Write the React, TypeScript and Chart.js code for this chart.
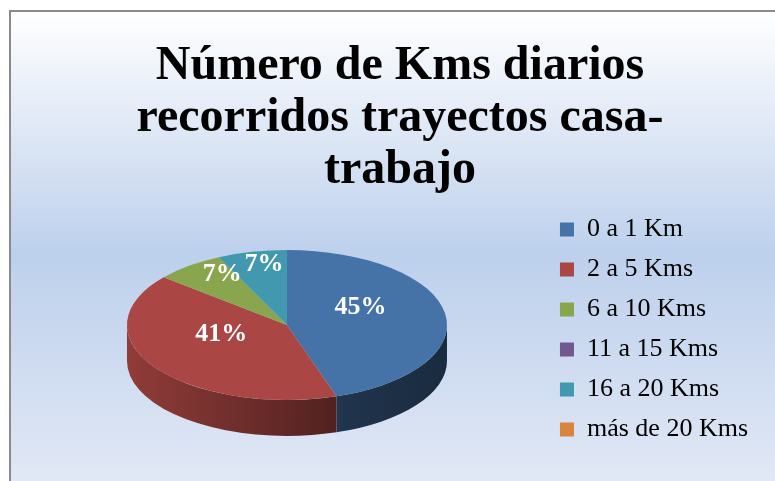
import React, { useEffect, useRef } from 'react';
import { Chart, registerables } from 'chart.js';

Chart.register(...registerables);

// ---- data ----
const titleLines = ['Número de Kms diarios', 'recorridos trayectos casa-', 'trabajo'];
const categories = ['0 a 1 Km', '2 a 5 Kms', '6 a 10 Kms', '11 a 15 Kms', '16 a 20 Kms', 'más de 20 Kms'];
const percentages = [45, 41, 7, 0, 7, 0];
const sliceColors = ['#4572A7', '#AA4643', '#89A54E', '#71588F', '#4198AF', '#DB843D'];

// ---- style ----
const SERIF = '"Liberation Serif", "Times New Roman", Times, serif';
const PIE_RADIUS = 160;
const TILT = 75 / 160; // vertical squash of the top face
const DEPTH = 36; // thickness of the pie
const TITLE_SHIFT = 7;
const LABEL_LIFT = 12; // perspective lift of the value labels

function shade(hex: string, f: number): string {
  const n = parseInt(hex.slice(1), 16);
  const r = Math.round(((n >> 16) & 255) * f);
  const g = Math.round(((n >> 8) & 255) * f);
  const b = Math.round((n & 255) * f);
  return `rgb(${r},${g},${b})`;
}

const backgroundPlugin = {
  id: 'bgFrame',
  beforeDraw(chart: any) {
    const { ctx, width, height } = chart;
    ctx.save();
    const g = ctx.createLinearGradient(0, 0, 0, height);
    g.addColorStop(0, '#ffffff');
    g.addColorStop(0.52, '#bdd0ec');
    g.addColorStop(1, '#e1e8f5');
    ctx.fillStyle = g;
    ctx.fillRect(0, 0, width, height);
    ctx.fillStyle = '#8a8a8a';
    ctx.fillRect(0, 0, 2, height);
    ctx.fillRect(0, 0, width, 2);
    ctx.restore();
  },
};

const titleShiftPlugin = {
  id: 'titleShift',
  afterLayout(chart: any) {
    const t = chart.titleBlock;
    if (t) {
      t.left += TITLE_SHIFT;
      t.right += TITLE_SHIFT;
    }
  },
};

const pie3dPlugin = {
  id: 'pie3d',
  beforeDatasetsDraw(chart: any) {
    const { ctx } = chart;
    const meta = chart.getDatasetMeta(0);
    const arcs = meta.data as any[];
    if (!arcs.length) return;
    const cx = arcs[0].x;
    const cy = arcs[0].y;
    const R = arcs[0].outerRadius;
    const ry = R * TILT;
    // side walls (front half only)
    arcs.forEach((arc: any, i: number) => {
      const a1 = Math.max(arc.startAngle, 0);
      const a2 = Math.min(arc.endAngle, Math.PI);
      if (a2 <= a1) return;
      const base = sliceColors[i];
      const grad = ctx.createLinearGradient(cx - R, 0, cx + R, 0);
      grad.addColorStop(0, shade(base, 0.85));
      grad.addColorStop(0.7, shade(base, 0.45));
      grad.addColorStop(1, shade(base, 0.38));
      ctx.save();
      ctx.beginPath();
      ctx.ellipse(cx, cy, R, ry, 0, a1, a2, false);
      ctx.lineTo(cx + R * Math.cos(a2), cy + ry * Math.sin(a2) + DEPTH);
      ctx.ellipse(cx, cy + DEPTH, R, ry, 0, a2, a1, true);
      ctx.closePath();
      ctx.fillStyle = grad;
      ctx.fill();
      ctx.restore();
    });
    // squash the top face
    ctx.save();
    ctx.translate(0, cy);
    ctx.scale(1, TILT);
    ctx.translate(0, -cy);
  },
  afterDatasetsDraw(chart: any) {
    const { ctx } = chart;
    ctx.restore();
    const meta = chart.getDatasetMeta(0);
    const arcs = meta.data as any[];
    const values = chart.data.datasets[0].data as number[];
    const total = values.reduce((s, v) => s + v, 0);
    ctx.save();
    ctx.fillStyle = '#ffffff';
    ctx.font = `bold 26px ${SERIF}`;
    ctx.textAlign = 'center';
    ctx.textBaseline = 'middle';
    arcs.forEach((arc: any, i: number) => {
      const v = values[i];
      if (!v) return;
      const span = arc.endAngle - arc.startAngle;
      const mid = (arc.startAngle + arc.endAngle) / 2;
      const f = (4 * Math.sin(span / 2)) / (3 * span);
      const R = arc.outerRadius;
      const x = arc.x + f * R * Math.cos(mid);
      const y = arc.y + f * R * TILT * Math.sin(mid) - LABEL_LIFT;
      ctx.fillText(`${Math.round((v / total) * 100)}%`, x, y);
    });
    ctx.restore();
  },
};

export default function App() {
  const canvasRef = useRef<HTMLCanvasElement>(null);

  useEffect(() => {
    const canvas = canvasRef.current;
    if (!canvas) return;
    const chart = new Chart(canvas, {
      type: 'pie',
      data: {
        labels: categories,
        datasets: [
          {
            data: percentages,
            backgroundColor: sliceColors,
            borderWidth: 0,
            radius: PIE_RADIUS,
            clip: false,
          } as any,
        ],
      },
      options: {
        responsive: false,
        animation: false,
        events: [],
        layout: { padding: { left: 19, right: 17, top: 0, bottom: 21 } },
        plugins: {
          title: {
            display: true,
            text: titleLines,
            color: '#000000',
            font: { family: SERIF, size: 48, weight: 'bold', lineHeight: 52 / 48 },
            padding: { top: 31, bottom: -7 },
          },
          legend: {
            display: true,
            position: 'right',
            fullSize: false,
            title: { display: true, text: ' ', font: { size: 9, lineHeight: 1 }, padding: 0 },
            labels: {
              color: '#000000',
              font: { family: SERIF, size: 26 },
              boxWidth: 14,
              boxHeight: 14,
              padding: 14,
            },
          },
          tooltip: { enabled: false },
        },
      },
      plugins: [backgroundPlugin, titleShiftPlugin, pie3dPlugin],
    });
    return () => chart.destroy();
  }, []);

  return (
    <div style={{ position: 'absolute', left: 9, top: 10, width: 766, height: 471, overflow: 'hidden' }}>
      <canvas ref={canvasRef} width={766} height={471} style={{ display: 'block' }} />
    </div>
  );
}
